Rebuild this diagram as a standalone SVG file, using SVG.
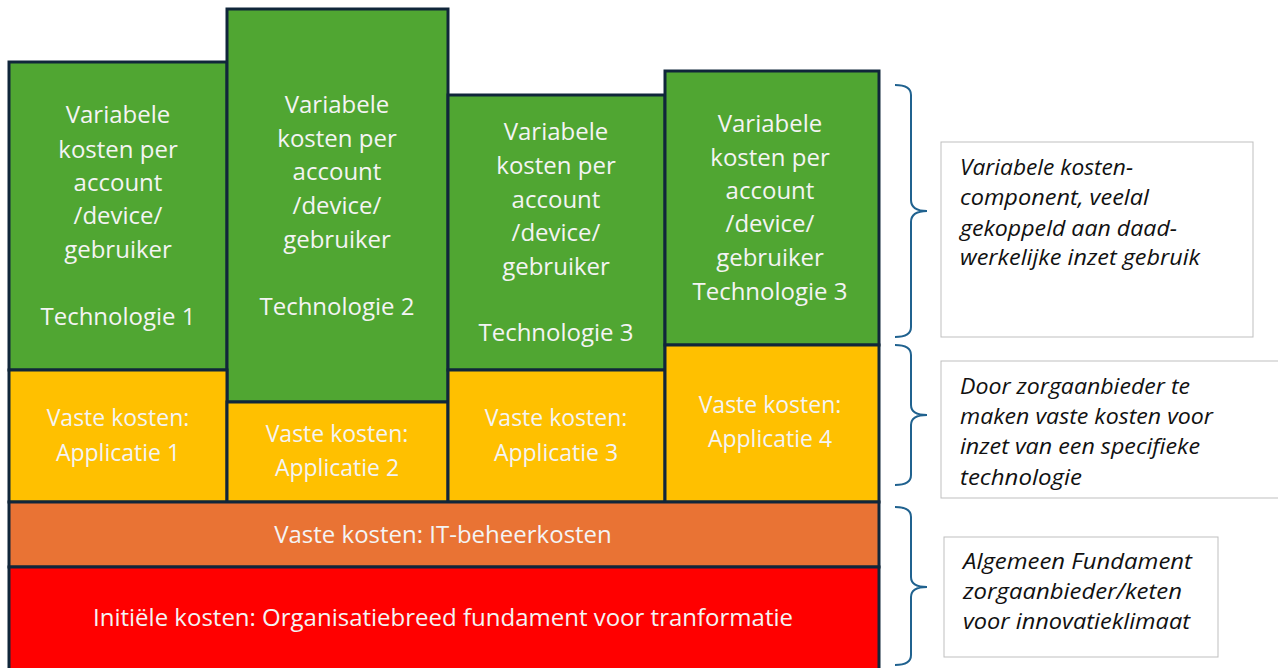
<svg xmlns="http://www.w3.org/2000/svg" width="1278" height="668" viewBox="0 0 1278 668">
<style>
.g{fill:#50A632;stroke:#10263A;stroke-width:3}
.y{fill:#FFC000;stroke:#10263A;stroke-width:3}
.o{fill:#E97334;stroke:#10263A;stroke-width:3}
.r{fill:#FF0000;stroke:#10263A;stroke-width:3}
.t{font-family:"Open Sans","Liberation Sans",sans-serif;font-size:24px;fill:#F4F4F4;text-anchor:middle}
.c{font-family:"Open Sans","Liberation Sans",sans-serif;font-size:23px;fill:#F4F4F4;text-anchor:middle}
.br{fill:none;stroke:#20628F;stroke-width:2}
.nb{fill:#FFFFFF;stroke:#BFBFBF;stroke-width:1}
.n{font-family:"Open Sans","Liberation Sans",sans-serif;font-size:21px;font-style:italic;fill:#111111}
</style>
<g id="green1"><rect class="g" x="9" y="62" width="218" height="308"/>
<text class="t"><tspan x="118" y="123">Variabele</tspan><tspan x="118" y="158">kosten per</tspan><tspan x="118" y="191">account</tspan><tspan x="118" y="224">/device/</tspan><tspan x="118" y="258">gebruiker</tspan><tspan x="118" y="325">Technologie 1</tspan></text></g>
<g id="green2"><rect class="g" x="227" y="9" width="221" height="393"/>
<text class="t"><tspan x="337" y="113">Variabele</tspan><tspan x="337" y="147">kosten per</tspan><tspan x="337" y="180">account</tspan><tspan x="337" y="214">/device/</tspan><tspan x="337" y="248">gebruiker</tspan><tspan x="337" y="315">Technologie 2</tspan></text></g>
<g id="green3"><rect class="g" x="448" y="95" width="217" height="275"/>
<text class="t"><tspan x="556" y="140">Variabele</tspan><tspan x="556" y="174">kosten per</tspan><tspan x="556" y="208">account</tspan><tspan x="556" y="241">/device/</tspan><tspan x="556" y="275">gebruiker</tspan><tspan x="556" y="341">Technologie 3</tspan></text></g>
<g id="green4"><rect class="g" x="665" y="71" width="214" height="274"/>
<text class="t"><tspan x="770" y="132">Variabele</tspan><tspan x="770" y="166">kosten per</tspan><tspan x="770" y="199">account</tspan><tspan x="770" y="232">/device/</tspan><tspan x="770" y="266">gebruiker</tspan><tspan x="770" y="300">Technologie 3</tspan></text></g>
<g id="yellow1"><rect class="y" x="9" y="370" width="218" height="132"/>
<text class="c"><tspan x="118" y="426">Vaste kosten:</tspan><tspan x="118" y="461">Applicatie 1</tspan></text></g>
<g id="yellow2"><rect class="y" x="227" y="402" width="221" height="100"/>
<text class="c"><tspan x="337" y="442">Vaste kosten:</tspan><tspan x="337" y="476">Applicatie 2</tspan></text></g>
<g id="yellow3"><rect class="y" x="448" y="370" width="217" height="132"/>
<text class="c"><tspan x="556" y="426">Vaste kosten:</tspan><tspan x="556" y="461">Applicatie 3</tspan></text></g>
<g id="yellow4"><rect class="y" x="665" y="345" width="214" height="157"/>
<text class="c"><tspan x="770" y="413">Vaste kosten:</tspan><tspan x="770" y="447">Applicatie 4</tspan></text></g>
<g id="orange"><rect class="o" x="9" y="502" width="870" height="65"/>
<text class="t" x="443" y="543">Vaste kosten: IT-beheerkosten</text></g>
<g id="red"><rect class="r" x="9" y="567" width="870" height="105"/>
<text class="t" x="443" y="626">Initiële kosten: Organisatiebreed fundament voor tranformatie</text></g>
<g id="connectors">
<path class="br" d="M895,85 Q911,85 911,95 L911,200 Q911,211 927,211 Q911,211 911,222 L911,327 Q911,337 895,337"/>
<path class="br" d="M895,345 Q911,345 911,355 L911,405 Q911,415 927,415 Q911,415 911,425 L911,475 Q911,485 895,485"/>
<path class="br" d="M895,507 Q911,507 911,517 L911,577 Q911,587 927,587 Q911,587 911,597 L911,655 Q911,665 895,665"/>
</g>
<g id="note1"><rect class="nb" x="941" y="142" width="312" height="195"/>
<text class="n"><tspan x="960" y="175" textLength="173" lengthAdjust="spacingAndGlyphs">Variabele kosten-</tspan><tspan x="960" y="205" textLength="189" lengthAdjust="spacingAndGlyphs">component, veelal</tspan><tspan x="960" y="236" textLength="217" lengthAdjust="spacingAndGlyphs">gekoppeld aan daad-</tspan><tspan x="960" y="265" textLength="240" lengthAdjust="spacingAndGlyphs">werkelijke inzet gebruik</tspan></text></g>
<g id="note2"><rect class="nb" x="941" y="361" width="345" height="137"/>
<text class="n"><tspan x="960" y="394" textLength="230" lengthAdjust="spacingAndGlyphs">Door zorgaanbieder te</tspan><tspan x="960" y="424" textLength="253" lengthAdjust="spacingAndGlyphs">maken vaste kosten voor</tspan><tspan x="960" y="454" textLength="240" lengthAdjust="spacingAndGlyphs">inzet van een specifieke</tspan><tspan x="960" y="485" textLength="122" lengthAdjust="spacingAndGlyphs">technologie</tspan></text></g>
<g id="note3"><rect class="nb" x="944" y="537" width="274" height="120"/>
<text class="n"><tspan x="963" y="569" textLength="229" lengthAdjust="spacingAndGlyphs">Algemeen Fundament</tspan><tspan x="963" y="599" textLength="219" lengthAdjust="spacingAndGlyphs">zorgaanbieder/keten</tspan><tspan x="963" y="629" textLength="227" lengthAdjust="spacingAndGlyphs">voor innovatieklimaat</tspan></text></g>
</svg>
